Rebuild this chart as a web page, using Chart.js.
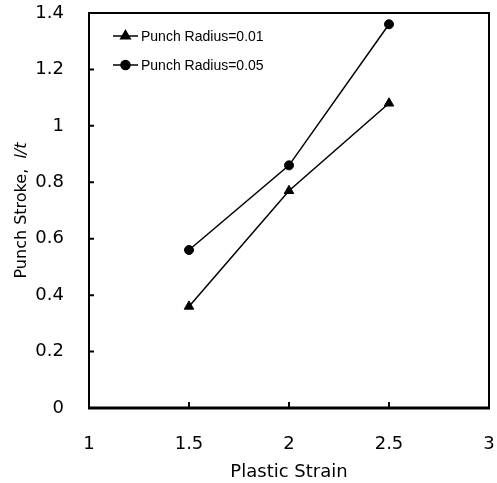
<!DOCTYPE html>
<html>
<head>
<meta charset="utf-8">
<script src="https://cdn.jsdelivr.net/npm/chart.js@4.4.1/dist/chart.umd.min.js"></script>
<style>
  html, body { margin: 0; padding: 0; background: #fff; }
  #wrap { width: 497px; height: 483px; position: relative; }
</style>
</head>
<body>
<div id="wrap"><canvas id="chart" width="497" height="483"></canvas></div>
<script>
// data
const strainValues = [1.5, 2, 2.5];
const strokeR001 = [0.36, 0.77, 1.08];
const strokeR005 = [0.56, 0.86, 1.36];
const seriesLabels = ['Punch Radius=0.01', 'Punch Radius=0.05'];
const xTickValues = [1, 1.5, 2, 2.5, 3];
const yTickValues = [0, 0.2, 0.4, 0.6, 0.8, 1, 1.2, 1.4];
const xTitle = 'Plastic Strain';
const yTitleMain = 'Punch Stroke,  ';
const yTitleItalic = 'l/t';

function toPoints(xs, ys) {
    return xs.map((x, i) => ({ x: x, y: ys[i] }));
}

// no extra padding for overhanging labels
function noPad(s) {
    s.paddingLeft = 0;
    s.paddingRight = 0;
    s.paddingTop = 0;
    s.paddingBottom = 0;
}

// frame with inward tick marks
const framePlugin = {
    id: 'frame',
    afterDatasetsDraw(chart) {
        const { ctx, chartArea: a, scales } = chart;
        ctx.save();
        ctx.strokeStyle = '#000';
        ctx.lineWidth = 2;
        ctx.strokeRect(a.left, a.top, a.right - a.left, a.bottom - a.top);
        // heavier bottom axis
        ctx.lineWidth = 3;
        ctx.beginPath();
        ctx.moveTo(a.left - 1, a.bottom);
        ctx.lineTo(a.right + 1, a.bottom);
        ctx.stroke();
        ctx.lineWidth = 2;
        ctx.beginPath();
        yTickValues.forEach(v => {
            const y = scales.y.getPixelForValue(v);
            ctx.moveTo(a.left, y);
            ctx.lineTo(a.left + 5, y);
        });
        xTickValues.forEach(v => {
            const x = scales.x.getPixelForValue(v);
            ctx.moveTo(x, a.bottom);
            ctx.lineTo(x, a.bottom - 6);
        });
        ctx.stroke();
        ctx.restore();
    }
};

// y title with italic l/t
const yTitlePlugin = {
    id: 'yTitle',
    afterDraw(chart) {
        const { ctx, chartArea: a } = chart;
        const cy = (a.top + a.bottom) / 2;
        ctx.save();
        ctx.translate(22, cy);
        ctx.rotate(-Math.PI / 2);
        ctx.fillStyle = '#000';
        ctx.textBaseline = 'middle';
        ctx.textAlign = 'left';
        const f1 = '16px "DejaVu Sans"';
        const f2 = 'italic 16px "DejaVu Sans"';
        ctx.font = f1;
        const w1 = ctx.measureText(yTitleMain).width;
        ctx.font = f2;
        const w2 = ctx.measureText(yTitleItalic).width;
        let x = -(w1 + w2) / 2;
        ctx.font = f1;
        ctx.fillText(yTitleMain, x, 0);
        ctx.font = f2;
        ctx.fillText(yTitleItalic, x + w1, 0);
        ctx.restore();
    }
};

// legend inside the plot, top left
const legendPlugin = {
    id: 'innerLegend',
    afterDraw(chart) {
        const { ctx, chartArea: a } = chart;
        ctx.save();
        chart.data.datasets.forEach((ds, i) => {
            const y = a.top + 23 + i * 29;
            const x0 = a.left + 24;
            ctx.strokeStyle = '#000';
            ctx.lineWidth = 1.5;
            ctx.beginPath();
            ctx.moveTo(x0, y);
            ctx.lineTo(x0 + 25, y);
            ctx.stroke();
            ctx.fillStyle = '#000';
            Chart.helpers.drawPoint(ctx, {
                pointStyle: ds.pointStyle,
                radius: ds.pointRadius,
                rotation: 0,
                borderWidth: 1
            }, x0 + 12.5, y);
            ctx.fillStyle = '#000';
            ctx.font = '14px "Liberation Sans", Arial, sans-serif';
            ctx.textBaseline = 'middle';
            ctx.textAlign = 'left';
            ctx.fillText(ds.label, x0 + 28, y + 1);
        });
        ctx.restore();
    }
};

const ctx = document.getElementById('chart').getContext('2d');
const chart = new Chart(ctx, {
    type: 'scatter',
    data: {
        datasets: [{
            label: seriesLabels[0],
            data: toPoints(strainValues, strokeR001),
            showLine: true,
            borderColor: '#000',
            backgroundColor: '#000',
            borderWidth: 1.5,
            pointStyle: 'triangle',
            pointRadius: 5.5,
            pointBorderWidth: 1
        }, {
            label: seriesLabels[1],
            data: toPoints(strainValues, strokeR005),
            showLine: true,
            borderColor: '#000',
            backgroundColor: '#000',
            borderWidth: 1.5,
            pointStyle: 'circle',
            pointRadius: 4.5,
            pointBorderWidth: 1
        }]
    },
    options: {
        responsive: false,
        animation: false,
        layout: { padding: { top: 13, right: 8, left: 0, bottom: 0 } },
        plugins: {
            legend: { display: false },
            tooltip: { enabled: false }
        },
        scales: {
            x: {
                type: 'linear',
                min: 1,
                max: 3,
                afterBuildTicks: s => { s.ticks = xTickValues.map(v => ({ value: v })); },
                afterFit: s => { s.height = 75; noPad(s); },
                grid: { display: false },
                border: { display: false },
                ticks: {
                    color: '#000',
                    padding: 18,
                    callback: v => String(v),
                    font: { family: '"DejaVu Sans"', size: 18 }
                },
                title: {
                    display: true,
                    text: xTitle,
                    color: '#000',
                    padding: { top: 2, bottom: 0 },
                    font: { family: '"DejaVu Sans"', size: 18 }
                }
            },
            y: {
                type: 'linear',
                min: 0,
                max: 1.4,
                afterBuildTicks: s => { s.ticks = yTickValues.map(v => ({ value: v })); },
                afterFit: s => { s.width = 89; noPad(s); },
                grid: { display: false },
                border: { display: false },
                ticks: {
                    color: '#000',
                    padding: 17,
                    callback: v => String(v),
                    font: { family: '"DejaVu Sans"', size: 18 }
                }
            }
        }
    },
    plugins: [framePlugin, yTitlePlugin, legendPlugin]
});
</script>
</body>
</html>
